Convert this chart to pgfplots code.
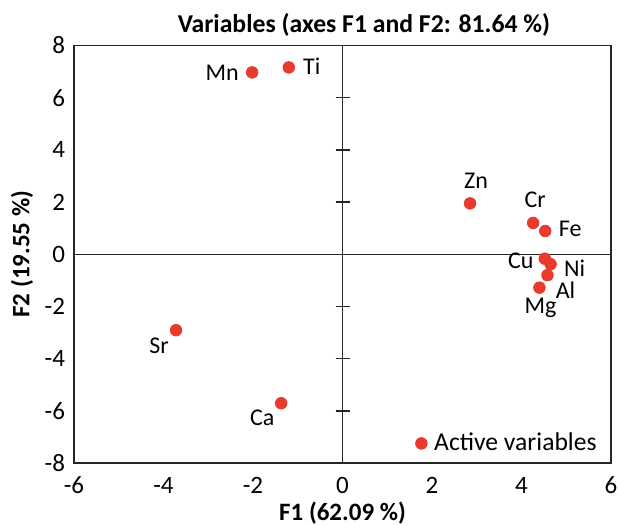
\documentclass[border=0pt]{standalone}
\usepackage{fontspec}
\setmainfont{Carlito}
\usepackage{pgfplots}
\pgfplotsset{compat=1.18}
\definecolor{dotred}{RGB}{232,58,45}
\begin{document}
\begin{tikzpicture}
\useasboundingbox (-37pt,-31pt) rectangle (272.5pt,231.5pt);
\begin{axis}[
  scale only axis,
  width=268.5pt, height=208.75pt,
  at={(0,0)}, anchor=south west,
  xmin=-6, xmax=6, ymin=-8, ymax=8,
  xtick={-6,-4,-2,0,2,4,6},
  xticklabels={-6,-4,-2,0,2,4,6},
  ytick={-8,-6,-4,-2,0,2,4,6,8},
  yticklabels={-8,-6,-4,-2,0,2,4,6,8},
  major tick length=0pt,
  tick label style={font=\fontsize{12.5}{14}\selectfont},
  xticklabel style={yshift=-3.5pt},
  yticklabel style={xshift=-1pt},
  axis line style={line width=0.7pt, black!85},
  clip=false,
  legend style={draw=none, fill=none, at={(axis cs:1.58,-7.25)}, anchor=west,
    font=\fontsize{12.8}{14}\selectfont, inner sep=1pt},
  legend cell align=left,
]
\draw[line width=0.7pt, black!85] (axis cs:-6,0) -- (axis cs:6,0);
\draw[line width=0.7pt, black!85] (axis cs:0,-8) -- (axis cs:0,8);
\pgfplotsinvokeforeach{-6,-4,-2,2,4,6}{
  \draw[line width=0.7pt, black!85] ([xshift=-3.5pt]axis cs:0,#1) -- ([xshift=3.5pt]axis cs:0,#1);
}
\addplot[only marks, mark=*, mark size=2.9pt, color=dotred, mark options={draw=dotred, fill=dotred}]
coordinates {
(-2.02,6.97) (-1.20,7.16) (2.85,1.95) (4.26,1.20) (4.53,0.89)
(4.52,-0.17) (4.65,-0.38) (4.58,-0.80) (4.40,-1.28) (-3.72,-2.91) (-1.37,-5.71)
};
\addlegendentry{\hspace{1.5pt}Active variables}
\begin{scope}[every node/.style={font=\fontsize{12}{14}\selectfont, inner sep=0pt}]
\node at ([xshift=-15pt]axis cs:-2.02,6.97) {Mn};
\node at ([xshift=11.5pt,yshift=0.5pt]axis cs:-1.20,7.16) {Ti};
\node at ([xshift=3pt,yshift=11.5pt]axis cs:2.85,1.95) {Zn};
\node at ([xshift=1pt,yshift=11.5pt]axis cs:4.26,1.20) {Cr};
\node at ([xshift=12.5pt,yshift=1pt]axis cs:4.53,0.89) {Fe};
\node at ([xshift=-12pt,yshift=-1pt]axis cs:4.52,-0.17) {Cu};
\node at ([xshift=12pt,yshift=-2pt]axis cs:4.65,-0.38) {Ni};
\node at ([xshift=9pt,yshift=-7.5pt]axis cs:4.58,-0.80) {Al};
\node at ([xshift=0.5pt,yshift=-10pt]axis cs:4.40,-1.28) {Mg};
\node at ([xshift=-8.5pt,yshift=-8pt]axis cs:-3.72,-2.91) {Sr};
\node at ([xshift=-9.5pt,yshift=-7.5pt]axis cs:-1.37,-5.71) {Ca};
\end{scope}
\node[font=\bfseries\fontsize{12.85}{14}\selectfont] at ([yshift=10.5pt]rel axis cs:0.540,1) {Variables (axes F1 and F2: 81.64 \%)};
\node[font=\bfseries\fontsize{12.5}{14}\selectfont] at ([yshift=-25pt]rel axis cs:0.5,0) {F1 (62.09 \%)};
\node[font=\bfseries\fontsize{12.5}{14}\selectfont, rotate=90] at ([xshift=-26pt]rel axis cs:0,0.5) {F2 (19.55 \%)};
\end{axis}
\end{tikzpicture}
\end{document}
